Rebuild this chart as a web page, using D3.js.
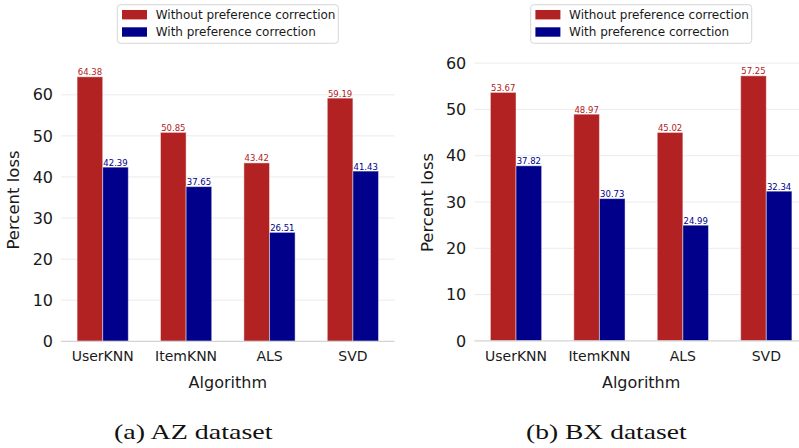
<!DOCTYPE html>
<html>
<head>
<meta charset="utf-8">
<script src="https://cdn.jsdelivr.net/npm/d3@7"></script>
<style>
  html, body { margin: 0; padding: 0; background: #fff; }
  svg { display: block; }
</style>
</head>
<body>
<svg id="chart" width="799" height="448"></svg>
<script>
// Algorithms compared and the two measurement series
const algorithms = ["UserKNN", "ItemKNN", "ALS", "SVD"];
const seriesNames = ["Without preference correction", "With preference correction"];

// Percent loss, AZ dataset
const azWithout = [64.38, 50.85, 43.42, 59.19];
const azWith = [42.39, 37.65, 26.51, 41.43];

// Percent loss, BX dataset
const bxWithout = [53.67, 48.97, 45.02, 57.25];
const bxWith = [37.82, 30.73, 24.99, 32.34];

const yTicks = [0, 10, 20, 30, 40, 50, 60];
const captions = ["(a) AZ dataset", "(b) BX dataset"];

const colors = ["#b22222", "#00008b"];
const sans = "'DejaVu Sans', sans-serif";

const svg = d3.select("#chart");

// Two side-by-side panels
const panels = [
  { values: [azWithout, azWith], caption: captions[0],
    x0: 61, x1: 394.6, yZero: 341.3, ySixty: 94.8,
    legendX: 117.3, ylabelX: 19.3, ylabelY: 200, captionX: 193.3, captionW: 158.5, clipRight: 399 },
  { values: [bxWithout, bxWith], caption: captions[1],
    x0: 474.3, x1: 808, yZero: 340.9, ySixty: 63.1,
    legendX: 530.7, ylabelX: 433, ylabelY: 202.5, captionX: 606.3, captionW: 160.5, clipRight: 799 }
];

panels.forEach((p, pi) => {
  const g = svg.append("g");

  const x = d3.scaleBand().domain(algorithms).range([p.x0, p.x1]).paddingInner(0).paddingOuter(0);
  const bw = x.bandwidth();
  const xSub = d3.scaleBand().domain(seriesNames).range([bw * 0.193, bw * 0.807]);
  const y = d3.scaleLinear().domain([0, 60]).range([p.yZero, p.ySixty]);
  const gridRight = Math.min(p.x1, p.clipRight);

  // Horizontal gridlines
  g.selectAll("line.grid").data(yTicks.slice(1)).enter().append("line")
    .attr("x1", p.x0).attr("x2", gridRight)
    .attr("y1", d => y(d)).attr("y2", d => y(d))
    .attr("stroke", "#ebebeb").attr("stroke-width", 1);

  // Y axis tick labels via d3 axis (no domain / tick marks)
  const yAxis = g.append("g")
    .attr("transform", `translate(${p.x0},0)`)
    .call(d3.axisLeft(y).tickValues(yTicks).tickSize(0).tickPadding(8).tickFormat(d3.format("d")));
  yAxis.select(".domain").remove();
  yAxis.selectAll("text").attr("font-family", sans).attr("font-size", 16).attr("fill", "#1a1a1a");

  // Bars
  seriesNames.forEach((s, si) => {
    const vals = p.values[si];
    const bars = g.selectAll(`rect.s${si}`).data(algorithms.map((a, i) => ({ a, v: vals[i] }))).enter();
    bars.append("rect")
      .attr("x", d => x(d.a) + xSub(s))
      .attr("width", xSub.bandwidth())
      .attr("y", d => y(d.v))
      .attr("height", d => y(0) - y(d.v))
      .attr("fill", colors[si])
      .attr("stroke", "#ffffff").attr("stroke-opacity", 0.45).attr("stroke-width", 1);
    bars.append("text")
      .attr("x", d => x(d.a) + xSub(s) + xSub.bandwidth() / 2)
      .attr("y", d => y(d.v) - 1.5)
      .attr("text-anchor", "middle")
      .attr("font-family", sans).attr("font-size", 8.5)
      .attr("fill", colors[si])
      .text(d => d.v.toFixed(2));
  });

  // Bottom spine
  g.append("line")
    .attr("x1", p.x0).attr("x2", gridRight)
    .attr("y1", y(0)).attr("y2", y(0))
    .attr("stroke", "#d4d4d4").attr("stroke-width", 1.2);

  // X axis category labels
  const xAxis = g.append("g")
    .attr("transform", `translate(0,${y(0)})`)
    .call(d3.axisBottom(x).tickSize(0).tickPadding(10));
  xAxis.select(".domain").remove();
  xAxis.selectAll("text").attr("font-family", sans).attr("font-size", 14).attr("fill", "#1a1a1a");

  // Axis titles
  g.append("text")
    .attr("x", (p.x0 + p.x1) / 2).attr("y", 387.5)
    .attr("text-anchor", "middle")
    .attr("font-family", sans).attr("font-size", 16).attr("fill", "#1a1a1a")
    .text("Algorithm");
  g.append("text")
    .attr("transform", `translate(${p.ylabelX},${p.ylabelY}) rotate(-90)`)
    .attr("text-anchor", "middle")
    .attr("font-family", sans).attr("font-size", 16.5).attr("fill", "#1a1a1a")
    .text("Percent loss");

  // Legend
  const lg = g.append("g").attr("transform", `translate(${p.legendX},4.7)`);
  lg.append("rect")
    .attr("width", 221).attr("height", 38.6).attr("rx", 3)
    .attr("fill", "#fff").attr("stroke", "#d6d6d6").attr("stroke-width", 1);
  seriesNames.forEach((s, si) => {
    lg.append("rect")
      .attr("x", 4.7).attr("y", 5.3 + si * 17.3)
      .attr("width", 25).attr("height", 9.4)
      .attr("fill", colors[si]);
    lg.append("text")
      .attr("x", 38.4).attr("y", 14.4 + si * 17.3)
      .attr("font-family", sans).attr("font-size", 12).attr("fill", "#1a1a1a")
      .text(s);
  });

  // Caption (serif, widened to a Computer-Modern-like proportion)
  g.append("text")
    .attr("x", p.captionX).attr("y", 439.3)
    .attr("text-anchor", "middle")
    .attr("font-family", "'Liberation Serif', serif").attr("font-size", 22)
    .attr("fill", "#111")
    .attr("textLength", p.captionW).attr("lengthAdjust", "spacingAndGlyphs")
    .text(p.caption);
});
</script>
</body>
</html>
